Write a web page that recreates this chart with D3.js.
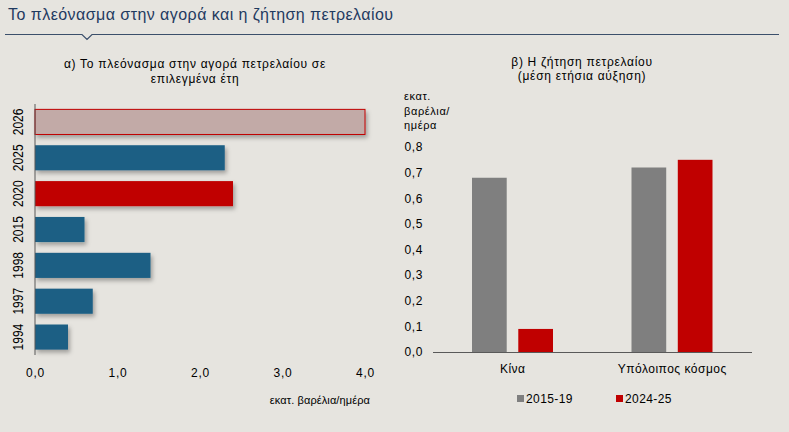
<!DOCTYPE html>
<html lang="el">
<head>
<meta charset="UTF-8">
<title>Πλεόνασμα και ζήτηση πετρελαίου</title>
<style>
    body { margin: 0; background: #e6e4df; }
    svg { display: block; font-family: "Liberation Sans", Arial, sans-serif; }
</style>
</head>
<body>
<div id="chart"></div>
<script src="https://d3js.org/d3.v7.min.js"></script>
<script>
    // panel a: surplus by year (million barrels/day)
    const years = ["2026", "2025", "2020", "2015", "1998", "1997", "1994"];
    const surplus = [4.0, 2.3, 2.4, 0.6, 1.4, 0.7, 0.4];
    const surplusKind = ["forecast", "normal", "highlight", "normal", "normal", "normal", "normal"];
    const surplusTicks = [0, 1, 2, 3, 4];

    // panel b: demand growth
    const regions = ["Κίνα", "Υπόλοιπος κόσμος"];
    const periods = ["2015-19", "2024-25"];
    const growth1519 = [0.68, 0.72];
    const growth2425 = [0.09, 0.75];
    const demandTicks = [0, 0.1, 0.2, 0.3, 0.4, 0.5, 0.6, 0.7, 0.8];

    const W = 789, H = 432;
    const fmt1 = d => d3.format(".1f")(d).replace(".", ",");

    const svg = d3.select("#chart").append("svg")
        .attr("width", W).attr("height", H);

    svg.append("rect").attr("width", W).attr("height", H).attr("fill", "#e6e4df");

    const defs = svg.append("defs");
    defs.append("filter").attr("id", "shadow")
        .attr("x", "-10%").attr("y", "-20%").attr("width", "130%").attr("height", "160%")
        .append("feDropShadow")
        .attr("dx", 2).attr("dy", 3).attr("stdDeviation", 2)
        .attr("flood-color", "#000").attr("flood-opacity", 0.3);

    // header
    svg.append("text")
        .attr("x", 8).attr("y", 20)
        .attr("font-size", 16).attr("letter-spacing", 0.45).attr("fill", "#1f3a5f")
        .text("Το πλεόνασμα στην αγορά και η ζήτηση πετρελαίου");

    svg.append("path")
        .attr("d", "M5,34.5 H82 L87,39.5 L92,34.5 H779")
        .attr("fill", "none").attr("stroke", "#3b4f6b").attr("stroke-width", 1.2);

    // ---------- panel a ----------
    const aTitle = svg.append("text").attr("text-anchor", "middle")
        .attr("font-size", 12).attr("letter-spacing", 0.7).attr("fill", "#000");
    aTitle.append("tspan").attr("x", 195).attr("y", 68).text("α) Το πλεόνασμα στην αγορά πετρελαίου σε");
    aTitle.append("tspan").attr("x", 195).attr("y", 83).text("επιλεγμένα έτη");

    const xA = d3.scaleLinear().domain([0, 4]).range([35, 365]);
    const yA = d3.scaleBand().domain(years).range([104, 355]).paddingInner(0.3).paddingOuter(0.15);

    const colorA = { forecast: "#c2aaa7", normal: "#1b5e84", highlight: "#c00000" };

    svg.append("g").selectAll("rect")
        .data(years)
        .join("rect")
        .attr("x", xA(0))
        .attr("y", d => yA(d))
        .attr("width", (d, i) => xA(surplus[i]) - xA(0))
        .attr("height", yA.bandwidth())
        .attr("fill", (d, i) => colorA[surplusKind[i]])
        .attr("stroke", (d, i) => surplusKind[i] === "forecast" ? "#c00000" : "none")
        .attr("stroke-width", 1)
        .attr("filter", "url(#shadow)");

    svg.append("line")
        .attr("x1", 35).attr("x2", 35).attr("y1", 104).attr("y2", 355)
        .attr("stroke", "#595959").attr("stroke-width", 1);

    const axA = svg.append("g").attr("transform", "translate(0,358)")
        .call(d3.axisBottom(xA).tickValues(surplusTicks).tickFormat(fmt1).tickSize(0).tickPadding(10));
    axA.select(".domain").remove();
    axA.selectAll("text").attr("font-size", 12).attr("letter-spacing", 0.8)
        .attr("fill", "#000").attr("font-family", null);

    svg.append("g").selectAll("text")
        .data(years)
        .join("text")
        .attr("transform", d => `translate(23,${yA(d) + yA.bandwidth() / 2}) scale(1.15,1) rotate(-90)`)
        .attr("text-anchor", "middle")
        .attr("font-size", 12)
        .text(d => d);

    svg.append("text")
        .attr("x", 370).attr("y", 404).attr("text-anchor", "end")
        .attr("font-size", 11).attr("letter-spacing", 0.1).text("εκατ. βαρέλια/ημέρα");

    // ---------- panel b ----------
    const bTitle = svg.append("text").attr("text-anchor", "middle")
        .attr("font-size", 12).attr("letter-spacing", 0.7);
    bTitle.append("tspan").attr("x", 582).attr("y", 66).text("β) Η ζήτηση πετρελαίου");
    bTitle.append("tspan").attr("x", 582).attr("y", 80).text("(μέση ετήσια αύξηση)");

    const unit = svg.append("text").attr("font-size", 11).attr("letter-spacing", 0.6);
    ["εκατ.", "βαρέλια/", "ημέρα"].forEach((t, i) =>
        unit.append("tspan").attr("x", 404).attr("y", 100 + i * 14.5).text(t));

    const yB = d3.scaleLinear().domain([0, 0.8]).range([352, 147]);
    const xB = d3.scaleBand().domain(regions).range([433, 752]);
    const xB2 = d3.scaleBand().domain(periods).range([40, 121]).paddingInner(0.25);
    const colorB = d3.scaleOrdinal().domain(periods).range(["#7f7f7f", "#c00000"]);

    const axB = svg.append("g").attr("transform", "translate(423,0)")
        .call(d3.axisLeft(yB).tickValues(demandTicks).tickFormat(fmt1).tickSize(0).tickPadding(0));
    axB.select(".domain").remove();
    axB.selectAll("text").attr("font-size", 12).attr("letter-spacing", 0.6)
        .attr("fill", "#000").attr("font-family", null);

    const groups = svg.append("g").selectAll("g")
        .data(regions)
        .join("g")
        .attr("transform", d => `translate(${xB(d)},0)`);

    groups.selectAll("rect")
        .data((d, i) => [
            { p: periods[0], v: growth1519[i] },
            { p: periods[1], v: growth2425[i] }
        ])
        .join("rect")
        .attr("x", d => xB2(d.p) - 1)
        .attr("y", d => yB(d.v))
        .attr("width", xB2.bandwidth())
        .attr("height", d => yB(0) - yB(d.v))
        .attr("fill", d => colorB(d.p));

    svg.append("line")
        .attr("x1", 433).attr("x2", 752).attr("y1", 352.5).attr("y2", 352.5)
        .attr("stroke", "#595959").attr("stroke-width", 1);

    const axBx = svg.append("g").attr("transform", "translate(0,356)")
        .call(d3.axisBottom(xB).tickSize(0).tickPadding(8));
    axBx.select(".domain").remove();
    axBx.selectAll("text").attr("font-size", 12).attr("letter-spacing", 0.5)
        .attr("fill", "#000").attr("font-family", null);

    // legend
    const legend = svg.append("g").selectAll("g")
        .data(periods)
        .join("g")
        .attr("transform", (d, i) => `translate(517,395) translate(${i * 99},0)`);
    legend.append("rect").attr("width", 7).attr("height", 7).attr("fill", d => colorB(d));
    legend.append("text").attr("x", 9).attr("y", 8).attr("font-size", 12)
        .attr("letter-spacing", 0.4).text(d => d);
</script>
</body>
</html>
